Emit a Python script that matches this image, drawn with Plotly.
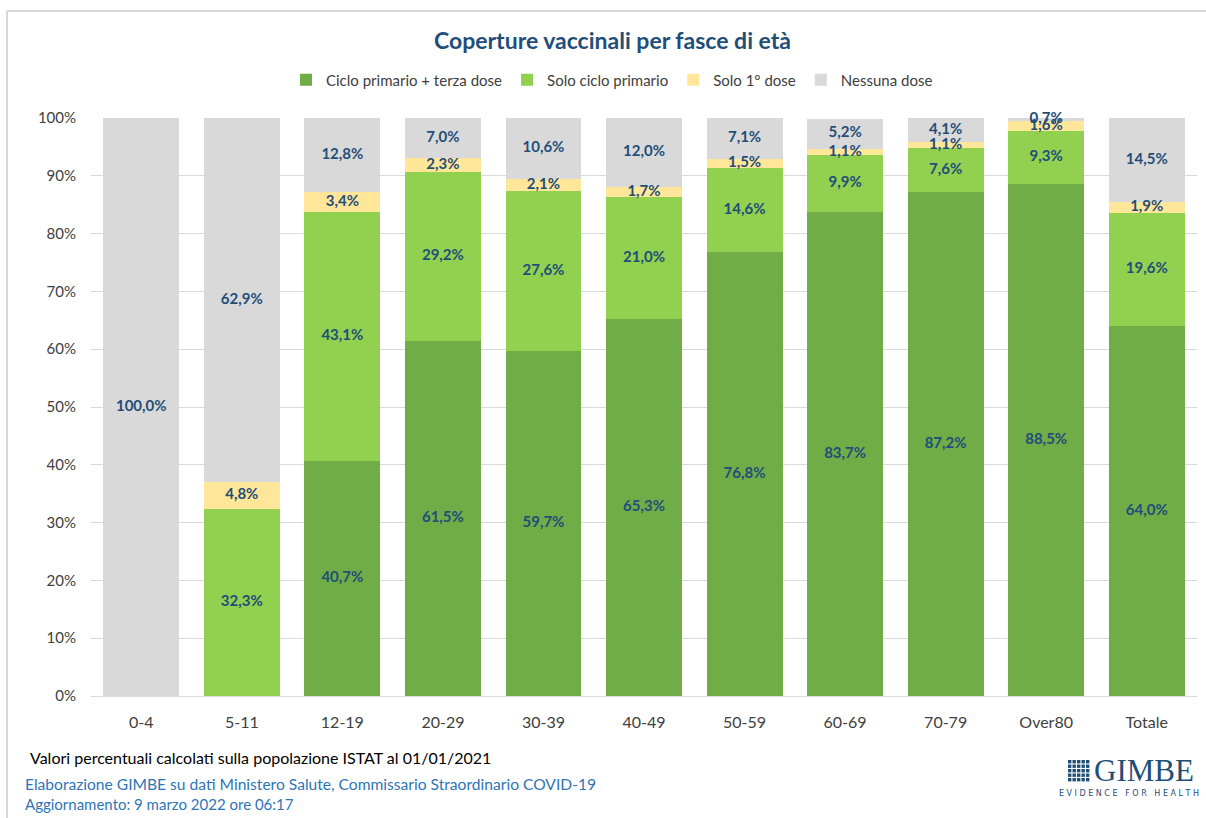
import plotly.graph_objects as go

categories = ["0-4", "5-11", "12-19", "20-29", "30-39", "40-49", "50-59", "60-69", "70-79", "Over80", "Totale"]
terza_dose = [0, 0, 40.7, 61.5, 59.7, 65.3, 76.8, 83.7, 87.2, 88.5, 64.0]
ciclo_primario = [0, 32.3, 43.1, 29.2, 27.6, 21.0, 14.6, 9.9, 7.6, 9.3, 19.6]
prima_dose = [0, 4.8, 3.4, 2.3, 2.1, 1.7, 1.5, 1.1, 1.1, 1.6, 1.9]
nessuna_dose = [100.0, 62.9, 12.8, 7.0, 10.6, 12.0, 7.1, 5.2, 4.1, 0.7, 14.5]
y_ticks = [0, 10, 20, 30, 40, 50, 60, 70, 80, 90, 100]

FONT = "Lato, 'Open Sans', sans-serif"
LABEL_COLOR = "#1F4E79"

def fmt(v):
    return (f"{v:.1f}".replace(".", ",") + "%") if v > 0 else ""

series = [
    ("Ciclo primario + terza dose", terza_dose, "#70AD47"),
    ("Solo ciclo primario", ciclo_primario, "#92D050"),
    ("Solo 1° dose", prima_dose, "#FFE699"),
    ("Nessuna dose", nessuna_dose, "#D9D9D9"),
]

fig = go.Figure()
base = [0.0] * len(categories)
label_x, label_y, label_t = [], [], []
for name, vals, color in series:
    fig.add_trace(go.Bar(
        name=name, x=categories, y=vals,
        marker=dict(color=color, line=dict(width=0)),
        hoverinfo="skip",
    ))
    for i, v in enumerate(vals):
        if v > 0:
            label_x.append(categories[i])
            label_y.append(base[i] + v / 2)
            label_t.append(fmt(v))
        base[i] += v

fig.add_trace(go.Scatter(
    x=label_x, y=label_y, text=label_t, mode="text", showlegend=False,
    textposition="middle center", cliponaxis=False, hoverinfo="skip",
    textfont=dict(family=FONT, size=15, color=LABEL_COLOR, weight="bold"),
))

# page-to-paper helpers (plot area: x 91..1197, y 118..696)
L, R, T, B = 91, 1197, 118, 696
def px(x):
    return (x - L) / (R - L)
def py(y):
    return (B - y) / (B - T)

annotations = [
    dict(text="<b>Coperture vaccinali per fasce di età</b>", x=px(612), y=py(40),
         font=dict(family=FONT, size=23, color="#1F4E79")),
    dict(text="Valori percentuali calcolati sulla popolazione ISTAT al 01/01/2021", x=px(28), y=py(757),
         xanchor="left", font=dict(family=FONT, size=16, color="#000000")),
    dict(text="Elaborazione GIMBE su dati Ministero Salute, Commissario Straordinario COVID-19", x=px(23), y=py(784),
         xanchor="left", font=dict(family=FONT, size=15.6, color="#2E75B6")),
    dict(text="Aggiornamento: 9 marzo 2022 ore 06:17", x=px(23), y=py(804),
         xanchor="left", font=dict(family=FONT, size=15, color="#2E75B6")),
    dict(text="GIMBE", x=px(1092), y=py(771), xanchor="left",
         font=dict(family="'Liberation Serif', 'DejaVu Serif', serif", size=31, color="#1F4E79")),
    dict(text="E V I D E N C E   F O R   H E A L T H", x=px(1129), y=py(793),
         font=dict(family="'DejaVu Sans', sans-serif", size=8, color="#1F4E79")),
]
for a in annotations:
    a.update(xref="paper", yref="paper", showarrow=False, yanchor=a.get("yanchor", "middle"),
             xanchor=a.get("xanchor", "center"))

shapes = [
    # frame
    dict(type="line", xref="paper", yref="paper", x0=px(7), x1=px(1210), y0=py(11), y1=py(11),
         line=dict(color="#D9D9D9", width=2)),
    dict(type="line", xref="paper", yref="paper", x0=px(7), x1=px(7), y0=py(11), y1=py(830),
         line=dict(color="#D9D9D9", width=2)),
]
# logo grid icon
x0, y0, cell = 1068, 760, 4.5
for i in range(5):
    for j in range(5):
        shapes.append(dict(type="rect", xref="paper", yref="paper",
                           x0=px(x0 + i * cell), x1=px(x0 + i * cell + cell - 1.1),
                           y0=py(y0 + j * cell), y1=py(y0 + j * cell + cell - 1.1),
                           fillcolor="#1F4E79", line=dict(width=0)))

fig.update_layout(
    barmode="stack", bargap=0.245,
    width=1206, height=818,
    margin=dict(l=L, r=1206 - R, t=T, b=818 - B),
    paper_bgcolor="white", plot_bgcolor="white",
    font=dict(family=FONT, size=14, color="#404040"),
    showlegend=True,
    legend=dict(orientation="h", x=px(612), xanchor="center", y=py(80), yanchor="middle",
                font=dict(family=FONT, size=15, color="#404040"), traceorder="normal"),
    annotations=annotations,
    shapes=shapes,
    xaxis=dict(showgrid=False, showline=True, linecolor="#D9D9D9", linewidth=1,
               range=[-0.5, len(categories) - 0.5],
               tickfont=dict(family=FONT, size=16, color="#404040"), ticks="",
               ticklabelstandoff=12),
    yaxis=dict(range=[0, 100], tickvals=y_ticks, ticktext=[f"{t}%" for t in y_ticks],
               showgrid=True, gridcolor="#D9D9D9", gridwidth=1, zeroline=False,
               showline=False, ticks="", ticklen=0, ticklabelstandoff=14,
               tickfont=dict(family=FONT, size=15, color="#404040")),
)

fig.write_html("out.html", config={"displayModeBar": False},
               post_script="document.body.style.margin='0';document.body.style.overflow='hidden';")
